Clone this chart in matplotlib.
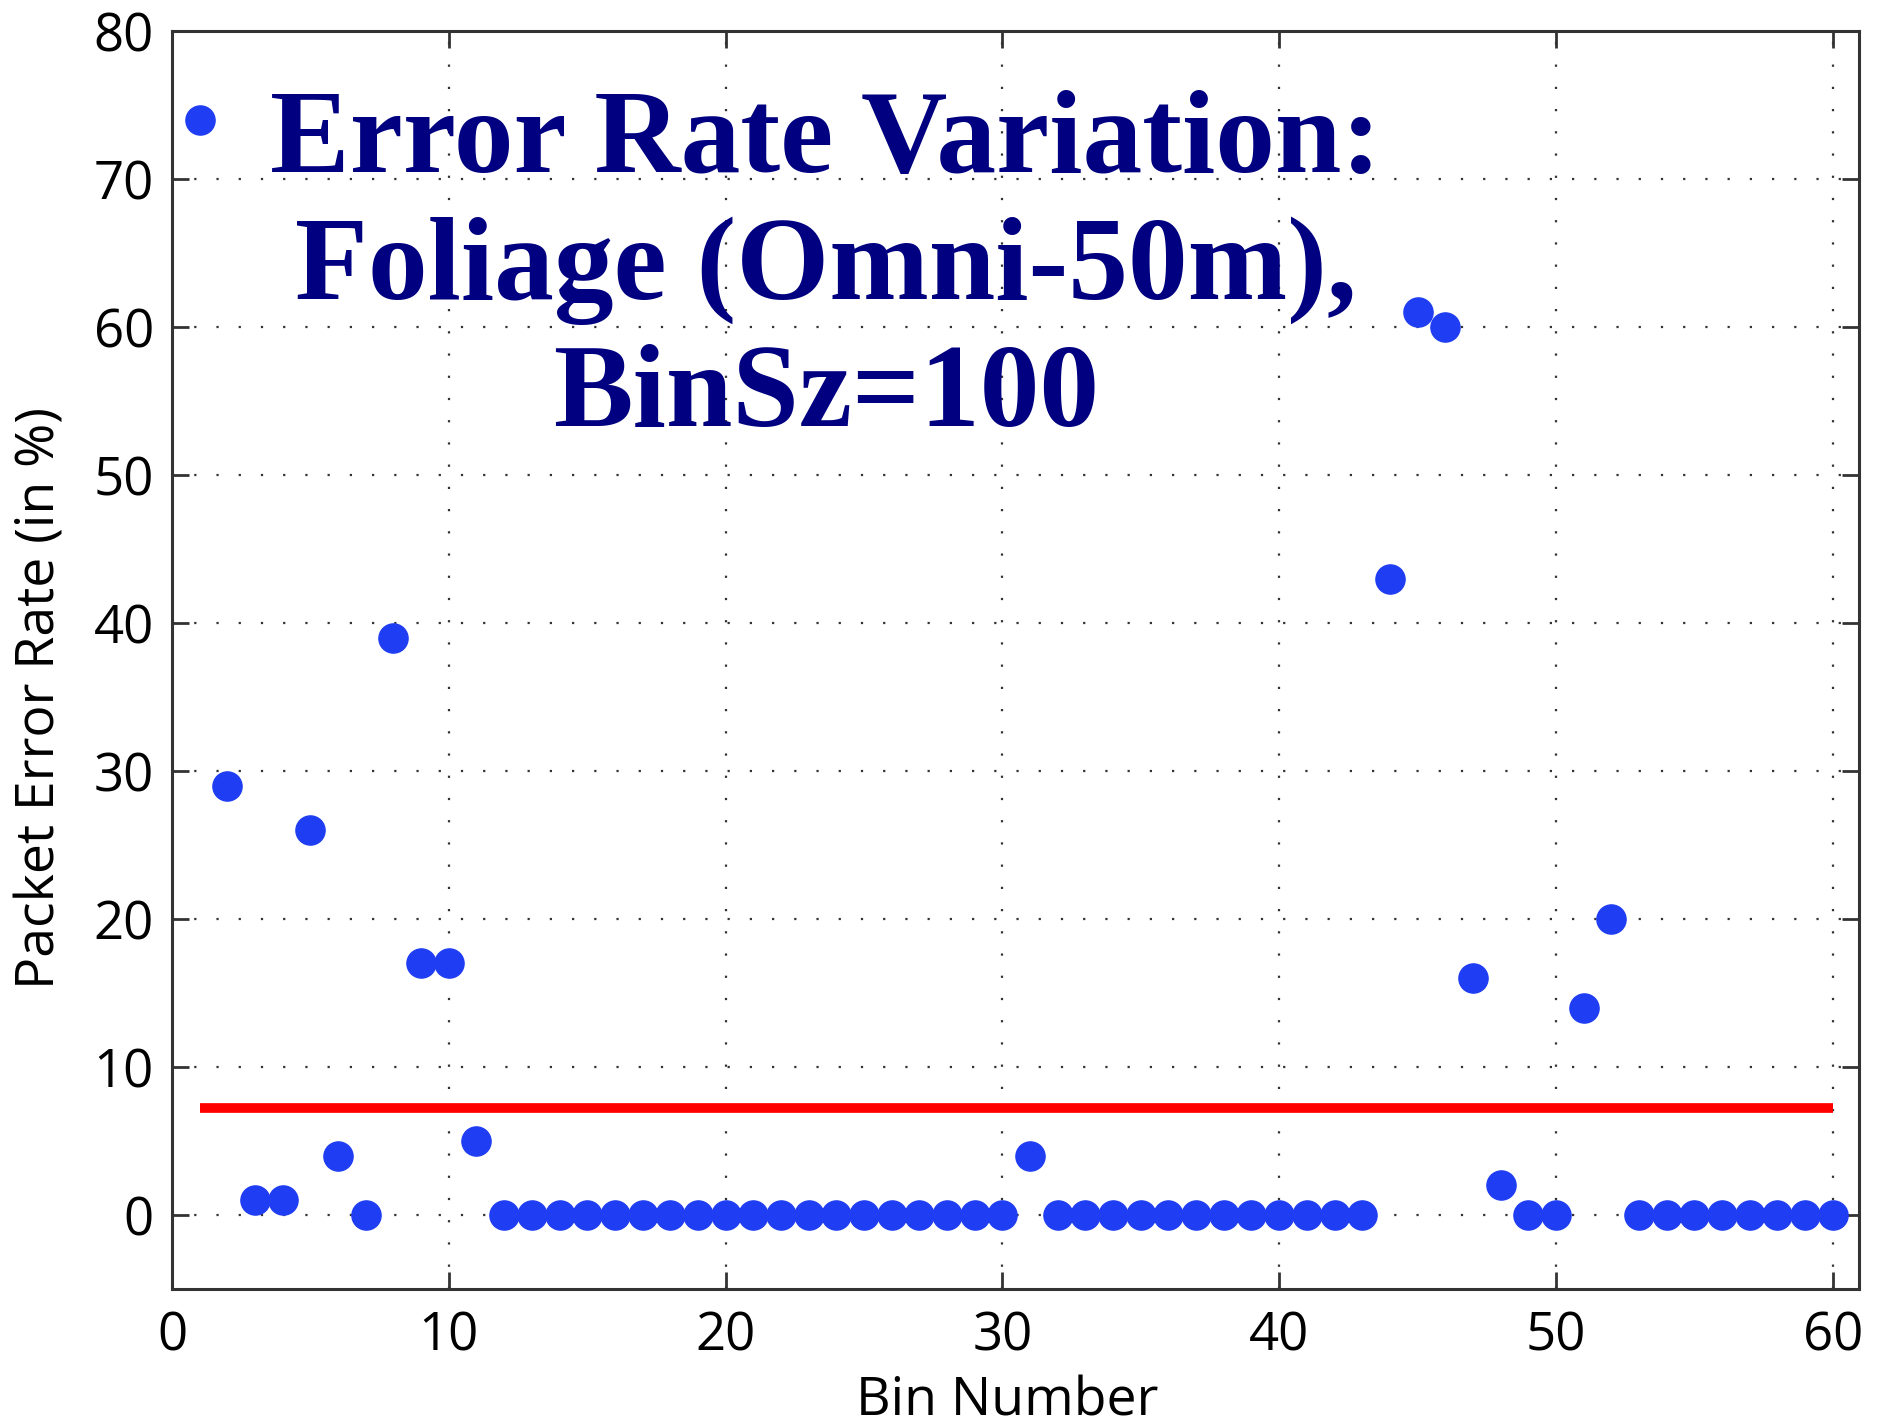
import numpy as np
import matplotlib
matplotlib.use("Agg")
import matplotlib.pyplot as plt

# packet error rate (%) per bin, bins 1..60
bins = list(range(1, 61))
per = [74, 29, 1, 1, 26, 4, 0, 39, 17, 17,
       5, 0, 0, 0, 0, 0, 0, 0, 0, 0,
       0, 0, 0, 0, 0, 0, 0, 0, 0, 0,
       4, 0, 0, 0, 0, 0, 0, 0, 0, 0,
       0, 0, 0, 43, 61, 60, 16, 2, 0, 0,
       14, 20, 0, 0, 0, 0, 0, 0, 0, 0]
xticks = [0, 10, 20, 30, 40, 50, 60]
yticks = [0, 10, 20, 30, 40, 50, 60, 70, 80]
title_lines = ["Error Rate Variation:", "Foliage (Omni-50m),", "BinSz=100"]

mean_per = np.mean(per)

plt.rcParams['font.family'] = ['Open Sans', 'DejaVu Sans']

fig = plt.figure(figsize=(18.78, 14.27), dpi=100)
ax = fig.add_axes([0.0916, 0.0967, 0.8983, 0.8816])

ax.plot(bins, per, 'o', color='#1f3df2', markersize=21, zorder=3)
ax.plot([bins[0], bins[-1]], [mean_per, mean_per], '-', color='#ff0000',
        linewidth=7, solid_capstyle='butt', zorder=2)

ax.set_xlim(0, 60.95)
ax.set_ylim(-5, 80)
ax.set_xticks(xticks)
ax.set_yticks(yticks)
ax.grid(True, color='#333333', linestyle=(0, (1, 9)), linewidth=1.6, zorder=0)
ax.set_axisbelow(True)

ax.tick_params(direction='in', length=12, width=2, labelsize=38,
               top=True, right=True, color='#333333')
ax.tick_params(axis='x', pad=15)
ax.tick_params(axis='y', pad=13)
for s in ax.spines.values():
    s.set_linewidth(2.2)
    s.set_color('#333333')

ax.set_xlabel('Bin Number', fontsize=38.5)
ax.set_ylabel('Packet Error Rate (in %)', fontsize=38.5)
ax.xaxis.set_label_coords(0.495, -0.068)
ax.yaxis.set_label_coords(-0.062, 0.47)

# big in-plot title
for i, line in enumerate(title_lines):
    fig.text(826 / 1878, 1 - (172 + 127 * i) / 1427, line,
             ha='center', va='baseline', fontsize=86, fontweight='bold',
             family=['Liberation Serif', 'DejaVu Serif'], color='#000080')

fig.savefig('out.png', dpi=100)
plt.close(fig)
